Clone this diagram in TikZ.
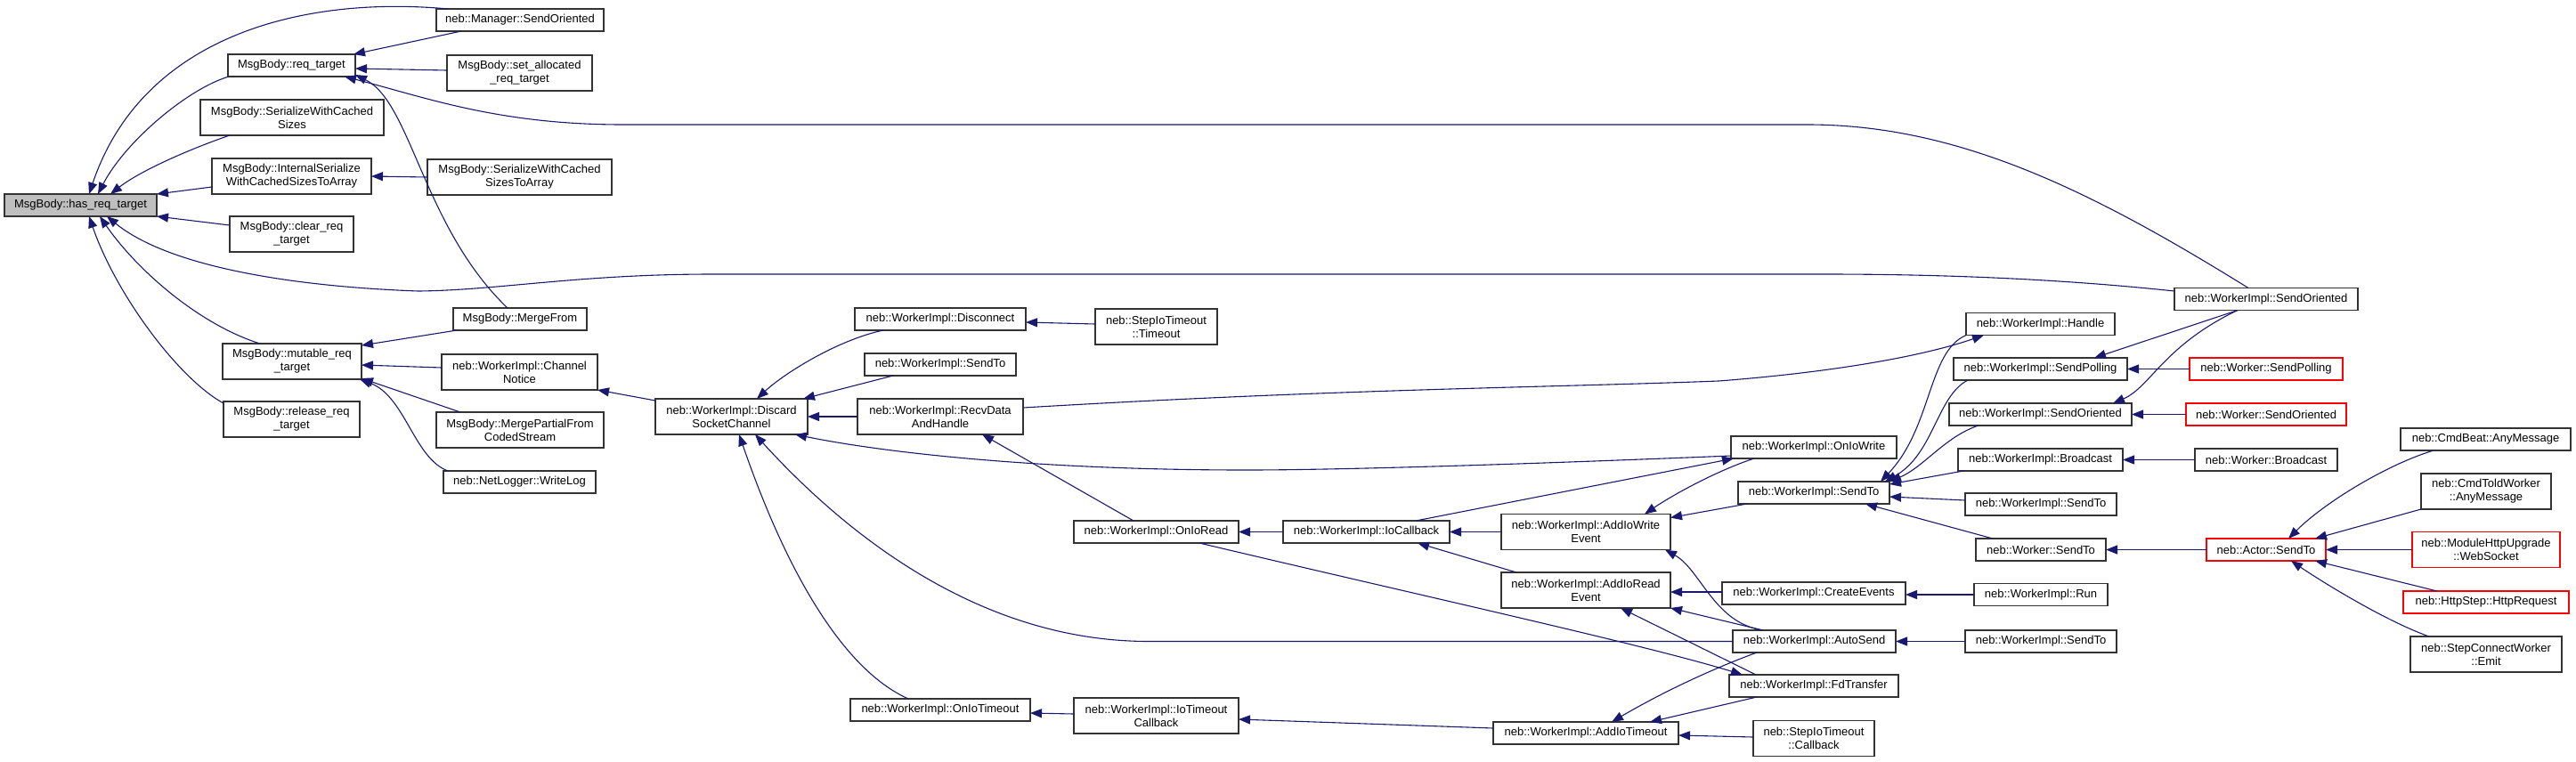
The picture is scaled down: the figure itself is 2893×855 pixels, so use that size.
\documentclass[tikz,border=0pt]{standalone}
\usepackage{fontspec}
\setmainfont{Liberation Sans}
\usetikzlibrary{arrows.meta}
\definecolor{edgecol}{HTML}{191970}
\definecolor{rootfill}{HTML}{BFBFBF}
\definecolor{boxline}{HTML}{333333}
\tikzset{
  x=1pt,y=-1pt,
  nd/.style={draw=boxline,line width=1.2pt,fill=white,inner sep=0pt,outer sep=0pt,
    font=\fontsize{13}{15}\selectfont,align=center,text=black},
  rednd/.style={nd,draw=red},
  rootnd/.style={nd,fill=rootfill},
  ed/.style={draw=edgecol,line width=1.1pt,-{Triangle[length=13pt,width=10pt]}},
}
\newcommand\mybox[6]{\node[#1,minimum width=#4pt,minimum height=#5pt] (#2) at (#3) {#6};}
\begin{document}
\begin{tikzpicture}
\fill[white] (0,0) rectangle (2893,855);
\useasboundingbox (0,0) rectangle (2893,855);
% column 0
\mybox{rootnd}{root}{90.5,230.5}{171}{25}{MsgBody::has\_req\_target}
% column 1
\mybox{nd}{reqt}{327.5,73.5}{143}{25}{MsgBody::req\_target}
\mybox{nd}{swcs}{328,132}{206}{40}{MsgBody::SerializeWithCached\\Sizes}
\mybox{nd}{iswcs}{327.5,198}{179}{40}{MsgBody::InternalSerialize\\WithCachedSizesToArray}
\mybox{nd}{clr}{327.5,263}{139}{40}{MsgBody::clear\_req\\\_target}
\mybox{nd}{mut}{328,406}{156}{40}{MsgBody::mutable\_req\\\_target}
\mybox{nd}{rel}{327.5,471}{153}{40}{MsgBody::release\_req\\\_target}
% column 2
\mybox{nd}{mgrso}{584,22.5}{188}{25}{neb::Manager::SendOriented}
\mybox{nd}{setalloc}{583.5,82}{163}{40}{MsgBody::set\_allocated\\\_req\_target}
\mybox{nd}{swcsta}{583.5,199}{207}{40}{MsgBody::SerializeWithCached\\SizesToArray}
\mybox{nd}{merge}{584,358.5}{150}{25}{MsgBody::MergeFrom}
\mybox{nd}{chn}{583.5,418}{175}{40}{neb::WorkerImpl::Channel\\Notice}
\mybox{nd}{mpfcs}{584,483}{188}{40}{MsgBody::MergePartialFrom\\CodedStream}
\mybox{nd}{wlog}{583.5,541.5}{171}{25}{neb::NetLogger::WriteLog}
% column 3
\mybox{nd}{dsc}{821.5,468}{171}{40}{neb::WorkerImpl::Discard\\SocketChannel}
% column 4
\mybox{nd}{disc}{1056,358.5}{192}{25}{neb::WorkerImpl::Disconnect}
\mybox{nd}{sendto1}{1056,409.5}{170}{25}{neb::WorkerImpl::SendTo}
\mybox{nd}{recv}{1056,468}{186}{40}{neb::WorkerImpl::RecvData\\AndHandle}
\mybox{nd}{oniot}{1056,797.5}{202}{25}{neb::WorkerImpl::OnIoTimeout}
% column 5
\mybox{nd}{siot}{1298.5,367}{137}{40}{neb::StepIoTimeout\\::Timeout}
\mybox{nd}{onior}{1298.5,597.5}{185}{25}{neb::WorkerImpl::OnIoRead}
\mybox{nd}{iotcb}{1298.5,804}{185}{40}{neb::WorkerImpl::IoTimeout\\Callback}
% column 6
\mybox{nd}{iocb}{1534.5,597.5}{187}{25}{neb::WorkerImpl::IoCallback}
% column 7
\mybox{nd}{aiow}{1781,597.5}{190}{40}{neb::WorkerImpl::AddIoWrite\\Event}
\mybox{nd}{aior}{1781,663}{190}{40}{neb::WorkerImpl::AddIoRead\\Event}
\mybox{nd}{aiot}{1781,823.5}{208}{25}{neb::WorkerImpl::AddIoTimeout}
% column 8
\mybox{nd}{oniow}{2037,502.5}{186}{25}{neb::WorkerImpl::OnIoWrite}
\mybox{nd}{sendto}{2037,553.5}{170}{25}{neb::WorkerImpl::SendTo}
\mybox{nd}{crev}{2037,666.5}{206}{25}{neb::WorkerImpl::CreateEvents}
\mybox{nd}{autos}{2037.5,720.5}{183}{25}{neb::WorkerImpl::AutoSend}
\mybox{nd}{fdt}{2037,770.5}{190}{25}{neb::WorkerImpl::FdTransfer}
\mybox{nd}{siotcb}{2037,829.5}{136}{40}{neb::StepIoTimeout\\::Callback}
% column 9
\mybox{nd}{handle}{2291.5,364}{167}{25}{neb::WorkerImpl::Handle}
\mybox{nd}{wisp}{2291.5,414.5}{195}{25}{neb::WorkerImpl::SendPolling}
\mybox{nd}{wiso2}{2291.5,465.5}{205}{25}{neb::WorkerImpl::SendOriented}
\mybox{nd}{wibc}{2291.5,516.5}{185}{25}{neb::WorkerImpl::Broadcast}
\mybox{nd}{sendto2}{2292,566.5}{170}{25}{neb::WorkerImpl::SendTo}
\mybox{nd}{wst}{2292,617.5}{146}{25}{neb::Worker::SendTo}
\mybox{nd}{run}{2292,668}{150}{25}{neb::WorkerImpl::Run}
\mybox{nd}{sendto3}{2292,720.5}{170}{25}{neb::WorkerImpl::SendTo}
% column 10
\mybox{nd}{wiso1}{2545,336}{206}{25}{neb::WorkerImpl::SendOriented}
\mybox{rednd}{wsp}{2545,414.5}{172}{25}{neb::Worker::SendPolling}
\mybox{rednd}{wso}{2545,465.5}{180}{25}{neb::Worker::SendOriented}
\mybox{nd}{wbc}{2545,516.5}{160}{25}{neb::Worker::Broadcast}
\mybox{rednd}{actor}{2545,617.5}{134}{25}{neb::Actor::SendTo}
% column 11
\mybox{nd}{cmdbeat}{2791.5,493.5}{191}{25}{neb::CmdBeat::AnyMessage}
\mybox{nd}{cmdtold}{2792,552}{146}{40}{neb::CmdToldWorker\\::AnyMessage}
\mybox{rednd}{mhu}{2792,617.5}{166}{40}{neb::ModuleHttpUpgrade\\::WebSocket}
\mybox{rednd}{httpreq}{2792,676.5}{186}{25}{neb::HttpStep::HttpRequest}
\mybox{nd}{emit}{2792,735}{170}{40}{neb::StepConnectWorker\\::Emit}

% ---- edges into has_req_target
\draw[ed] ([xshift=13pt]mgrso.north west) .. controls (340,-5) and (160,40) .. ([xshift=9.5pt]root.north);
\draw[ed] ([xshift=1pt]reqt.south west) .. controls (210,100) and (140,160) .. ([xshift=19.5pt]root.north);
\draw[ed] ([xshift=-70pt]swcs.south) .. controls (220,165) and (160,190) .. ([xshift=33.5pt]root.north);
\draw[ed] ([yshift=-12pt]iswcs.west) -- (root.north east);
\draw[ed] ([yshift=10pt]clr.west) -- (root.south east);
\draw[ed] ([yshift=9pt]wiso1.west) .. controls (2330,315) and (2200,308) .. (2050,308) -- (800,308) .. controls (650,308) and (560,326) .. (470,327) .. controls (330,322) and (190,300) .. ([xshift=29.5pt]root.south);
\draw[ed] ([xshift=-36pt]mut.north) .. controls (225,365) and (155,305) .. ([xshift=21.5pt]root.south);
\draw[ed] ([yshift=-2pt]rel.north west) .. controls (200,425) and (130,330) .. ([xshift=9.5pt]root.south);
% ---- into req_target
\draw[ed] ([xshift=28pt]mgrso.south west) -- ([xshift=-2pt]reqt.north east);
\draw[ed] ([yshift=3pt]setalloc.west) -- ([yshift=-3.5pt]reqt.east);
\draw[ed] ([xshift=-20pt]wiso1.north) .. controls (2350,215) and (2200,140) .. (2030,140) -- (700,140) .. controls (560,140) and (480,110) .. ([xshift=-12pt]reqt.south east);
\draw[ed] ([xshift=-14pt]merge.north) .. controls (475,255) and (462,115) .. ([yshift=2pt]reqt.south east);
% ---- into InternalSerialize
\draw[ed] (swcsta.west) -- (iswcs.east);
% ---- into mutable_req_target
\draw[ed] ([xshift=4pt]merge.south west) -- ([yshift=-2pt]mut.north east);
\draw[ed] ([yshift=5pt]chn.west) -- ([yshift=-4pt]mut.east);
\draw[ed] ([xshift=27pt]mpfcs.north west) -- ([yshift=1pt]mut.south east);
\draw[ed] ([xshift=5pt]wlog.north west) .. controls (465,515) and (455,445) .. ([xshift=-2pt]mut.south east);
% ---- into ChannelNotice
\draw[ed] ([yshift=18pt]dsc.west) -- (chn.south east);
% ---- into DiscardSocketChannel
\draw[ed] ([xshift=-64pt]disc.south) .. controls (940,382) and (880,420) .. ([xshift=28.5pt]dsc.north);
\draw[ed] ([xshift=-53pt]sendto1.south) -- ([xshift=-5pt]dsc.north east);
\draw[ed] (recv.west) -- (dsc.east);
\draw[ed] ([yshift=-9.5pt]oniow.west) .. controls (1700,522) and (1500,528) .. (1400,528) .. controls (1150,528) and (980,506) .. ([xshift=-14pt]dsc.south east);
\draw[ed] (autos.west) -- (1290,720.5) .. controls (1100,720.5) and (950,600) .. ([xshift=26.5pt]dsc.south);
\draw[ed] ([xshift=-36pt]oniot.north) .. controls (920,740) and (855,560) .. ([xshift=8.5pt]dsc.south);
% ---- column 4/5
\draw[ed] ([yshift=3pt]siot.west) -- ([yshift=-3.5pt]disc.east);
\draw[ed] ([xshift=-25.5pt]onior.north) -- ([xshift=47pt]recv.south);
\draw[ed] ([yshift=10pt]recv.east) .. controls (1500,437) and (1750,435) .. (1930,428) .. controls (2060,418) and (2160,400) .. ([xshift=20pt]handle.south west);
\draw[ed] (iocb.west) -- (onior.east);
\draw[ed] ([xshift=48.5pt]onior.south) .. controls (1600,670) and (1850,725) .. ([xshift=15pt]fdt.north west);
\draw[ed] ([yshift=2pt]iotcb.west) -- ([yshift=-3.5pt]oniot.east);
% ---- IoCallback / AddIo*
\draw[ed] (aiow.west) -- (iocb.east);
\draw[ed] ([xshift=17pt]aior.north west) -- ([xshift=57.5pt]iocb.south);
\draw[ed] ([xshift=55.5pt]iocb.north) -- ([xshift=3pt]oniow.south west);
\draw[ed] ([xshift=26pt]oniow.south west) .. controls (1930,528) and (1880,555) .. ([xshift=66pt]aiow.north);
\draw[ed] ([xshift=10pt]sendto.south west) -- ([yshift=-4pt]aiow.north east);
\draw[ed] ([yshift=1.5pt]crev.west) -- ([yshift=-2pt]aior.east);
\draw[ed] ([xshift=34pt]autos.north west) .. controls (1925,700) and (1910,640) .. ([xshift=-6pt]aiow.south east);
\draw[ed] ([xshift=34pt]autos.north west) -- (aior.south east);
\draw[ed] ([xshift=30pt]fdt.north west) -- ([xshift=39pt]aior.south);
\draw[ed] ([xshift=27pt]autos.south west) .. controls (1940,745) and (1880,770) .. ([xshift=29pt]aiot.north);
\draw[ed] ([xshift=31pt]fdt.south west) -- ([xshift=72pt]aiot.north);
\draw[ed] ([yshift=5.5pt]aiot.west) -- ([yshift=-4pt]iotcb.east);
\draw[ed] ([yshift=1.5pt]siotcb.west) -- ([yshift=-2.5pt]aiot.east);
% ---- into WorkerImpl::SendTo
\draw[ed] (handle.south west) .. controls (2165,395) and (2170,480) .. ([xshift=-10pt]sendto.north east);
\draw[ed] ([xshift=16pt]wisp.south west) .. controls (2175,445) and (2172,510) .. ([xshift=-5pt]sendto.north east);
\draw[ed] ([xshift=33pt]wiso2.south west) .. controls (2185,490) and (2160,525) .. (sendto.north east);
\draw[ed] ([xshift=6pt]wibc.south west) -- ([yshift=-3pt]sendto.north east);
\draw[ed] ([yshift=4.5pt]sendto2.west) -- ([yshift=-4.5pt]sendto.east);
\draw[ed] ([xshift=19pt]wst.north west) -- ([xshift=58pt]sendto.south);
% ---- right side
\draw[ed] ([xshift=-32pt]wiso1.south) -- ([xshift=60.5pt]wisp.north);
\draw[ed] ([xshift=-32pt]wiso1.south) .. controls (2430,388) and (2415,435) .. ([xshift=81.5pt]wiso2.north);
\draw[ed] (wsp.west) -- (wisp.east);
\draw[ed] (wso.west) -- (wiso2.east);
\draw[ed] (wbc.west) -- (wibc.east);
\draw[ed] (actor.west) -- (wst.east);
\draw[ed] (run.west) -- ([yshift=-1.5pt]crev.east);
\draw[ed] (sendto3.west) -- (autos.east);
% ---- into Actor::SendTo
\draw[ed] ([xshift=37pt]cmdbeat.south west) .. controls (2680,522) and (2610,565) .. ([xshift=25pt]actor.north);
\draw[ed] (cmdtold.south west) -- ([xshift=55pt]actor.north);
\draw[ed] (mhu.west) -- (actor.east);
\draw[ed] ([xshift=38pt]httpreq.north west) -- ([xshift=55pt]actor.south);
\draw[ed] ([xshift=21pt]emit.north west) .. controls (2680,698) and (2610,655) .. ([xshift=28pt]actor.south);
\end{tikzpicture}
\end{document}
